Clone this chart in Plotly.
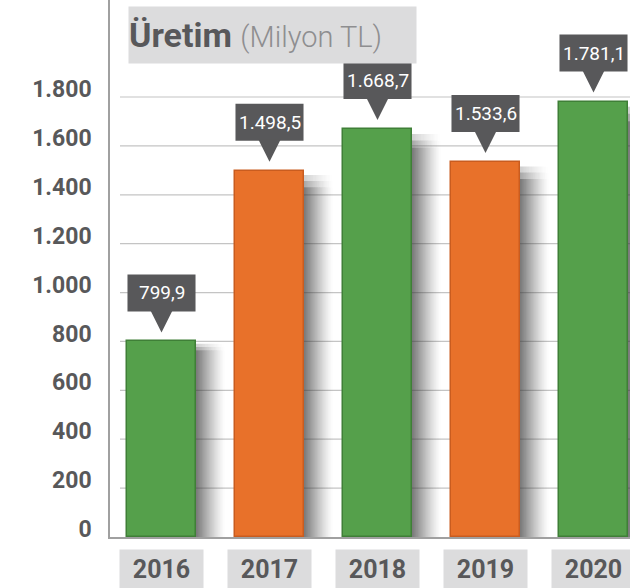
import plotly.graph_objects as go

# ---- data ----
years = ["2016", "2017", "2018", "2019", "2020"]
values = [799.9, 1498.5, 1668.7, 1533.6, 1781.1]
bar_kind = ["green", "orange", "green", "orange", "green"]
y_ticks = [0, 200, 400, 600, 800, 1000, 1200, 1400, 1600, 1800]
title_main = "Üretim"
title_unit = "(Milyon TL)"

# ---- styles ----
FILL = {"green": "#55a04b", "orange": "#e8712a"}
EDGE = {"green": "#3f7f37", "orange": "#c95c1f"}
DARK = "#58585a"
BOXGRAY = "#dcdcdd"
FONT = "Roboto"
BAR_W = 0.63


def tr_fmt(v):
    s = f"{v:,.1f}"
    return s.replace(",", "X").replace(".", ",").replace("X", ".")


xs = list(range(len(years)))

fig = go.Figure()
fig.add_trace(go.Bar(
    x=xs, y=values, width=BAR_W,
    marker=dict(color=[FILL[k] for k in bar_kind],
                line=dict(color=[EDGE[k] for k in bar_kind], width=1.5)),
    hoverinfo="skip", showlegend=False,
))

shapes = []
# gridlines
for t in y_ticks[1:]:
    shapes.append(dict(type="line", xref="paper", yref="y", x0=10 / 520, x1=1,
                       y0=t, y1=t, line=dict(color="#c4c4c4", width=1.2), layer="below"))
# soft shadows to the right of each bar
n = 30
for i, v in zip(xs, values):
    for k in range(n):
        a = 0.85 * (1 - k / n) ** 1.5
        for j, f in enumerate([0.955, 0.972, 0.988]):
            shapes.append(dict(type="rect", xref="x", xsizemode="pixel", xanchor=i + BAR_W / 2,
                               x0=k, x1=k + 1, yref="y", y0=0 if j == 0 else v * [0.955, 0.972][j - 1],
                               y1=v * f,
                               fillcolor=f"rgba(55,55,55,{a * [1, 0.6, 0.3][j]:.3f})",
                               line=dict(width=0), layer="below"))
# callouts
annotations = []
for i, v in zip(xs, values):
    shapes.append(dict(type="rect", xref="x", x0=i - BAR_W / 2, x1=i + BAR_W / 2,
                       yref="y", ysizemode="pixel", yanchor=v, y0=30, y1=67,
                       fillcolor=DARK, line=dict(width=0)))
    shapes.append(dict(type="path", xref="x", xsizemode="pixel", xanchor=i,
                       yref="y", ysizemode="pixel", yanchor=v,
                       path="M -11,31 L 11,31 L 0,9 Z", fillcolor=DARK, line=dict(width=0)))
    annotations.append(dict(x=i, y=v, xref="x", yref="y", yshift=48.5, showarrow=False,
                            text=tr_fmt(v), font=dict(family=FONT, size=19, color="white")))
# year boxes
for i, yr in zip(xs, years):
    annotations.append(dict(x=i, y=0, xref="x", yref="y", yanchor="top", yshift=-12,
                            showarrow=False, text=yr, bgcolor=BOXGRAY, width=83, height=38,
                            borderpad=0,
                            font=dict(family=FONT, size=25, color=DARK, weight=700)))
# title
annotations.append(dict(xref="paper", yref="paper", x=18 / 520, y=1 - 6 / 537,
                        xanchor="left", yanchor="top", align="left", showarrow=False,
                        width=287, height=56, bgcolor=BOXGRAY, borderpad=0,
                        text=(f"<b>{title_main}</b> <span style='color:#8e8e90;font-weight:300;"
                              f"font-size:29px'>{title_unit}</span>"),
                        font=dict(family=FONT, size=34, color=DARK)))

x0 = -(161.5 - 110) / 108
fig.update_layout(
    width=630, height=588,
    margin=dict(l=110, r=0, t=0, b=51, autoexpand=False),
    paper_bgcolor="white", plot_bgcolor="white",
    separators=",.",
    shapes=shapes, annotations=annotations,
    xaxis=dict(range=[x0, x0 + 520 / 108], showticklabels=False, showgrid=False,
               zeroline=False, showline=True, linecolor="#a0a0a0", linewidth=1.5,
               fixedrange=True),
    yaxis=dict(range=[0, 537 / (440 / 1800)], tickvals=y_ticks, tickformat=",d",
               showgrid=False, zeroline=False, showline=True, linecolor="#a0a0a0",
               linewidth=1.5, ticklabelstandoff=12, ticklabelshift=-8,
               tickfont=dict(family=FONT, size=23, color=DARK, weight=700),
               fixedrange=True),
    bargap=0,
)

fig.write_html("out.html", config={"displayModeBar": False},
               post_script="document.body.style.margin='0px';")
